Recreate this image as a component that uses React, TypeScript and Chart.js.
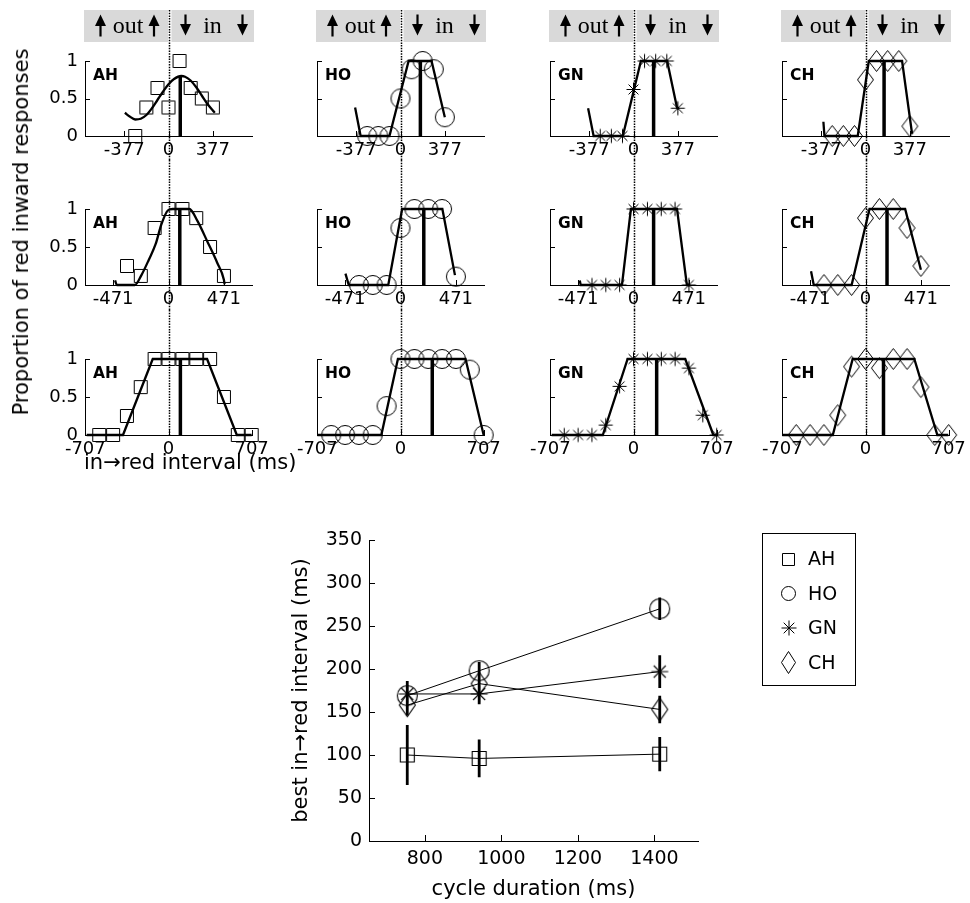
import React, { useEffect, useRef } from 'react';
import { Chart, registerables } from 'chart.js';
Chart.register(...registerables);

const SANS = '"DejaVu Sans", "Liberation Sans", Arial, sans-serif';
const SERIF = '"Liberation Serif", "Times New Roman", serif';

// ---------------- data ----------------
const subjects = ['AH', 'HO', 'GN', 'CH'];
const markerKinds = ['square', 'circle', 'star', 'diamond'];
const cycleDurations = [754, 942, 1414];

const xTicksRow1 = [-377, 0, 377];
const xTicksRow2 = [-471, 0, 471];
const xTicksRow3 = [-707, 0, 707];
const yTicksPanel = [0, 0.5, 1];
const yTicksBottom = [0, 50, 100, 150, 200, 250, 300, 350];
const xTicksBottom = [800, 1000, 1200, 1400];

// in->red intervals (ms) of the tested conditions
const intervalsRow1 = [-283, -188.5, -94, 0, 94, 188.5, 283, 377];
const intervalsRow2 = [-353, -235.5, -118, 0, 118, 235.5, 353, 471];
const intervalsRow3 = [-589, -471, -353.5, -236, -118, 0, 118, 236, 353.5, 471, 589, 707];

// proportion of red inward responses
const propAH1 = [0, 0.38, 0.64, 0.38, 1.0, 0.64, 0.5, 0.38];
const propHO1 = [0, 0, 0, 0.5, 0.89, 1, 0.89, 0.25];
const propGN1 = [0, 0, 0, 0.62, 1, 1, 1, 0.37];
const propCH1 = [0, 0, 0, 0.75, 1, 1, 1, 0.13];
const propAH2 = [0.25, 0.12, 0.75, 1, 1, 0.88, 0.5, 0.12];
const propHO2 = [0, 0, 0, 0.75, 1, 1, 1, 0.11];
const propGN2 = [0, 0, 0, 1, 1, 1, 1, 0];
const propCH2 = [0, 0, 0, 0.88, 1, 1, 0.75, 0.25];
const propAH3 = [0, 0, 0.25, 0.63, 1, 1, 1, 1, 1, 0.5, 0, 0];
const propHO3 = [0, 0, 0, 0, 0.38, 1, 1, 1, 1, 1, 0.86, 0];
const propGN3 = [0, 0, 0, 0.13, 0.64, 1, 1, 1, 1, 0.88, 0.26, 0];
const propCH3 = [0, 0, 0, 0.26, 0.9, 1, 0.88, 1, 1, 0.63, 0, 0];

// fitted curves
const fitAH1X = [-371, -330, -283, -236, -188, -141, -94, -47, 0, 47, 108, 141, 188, 236, 283, 330, 377, 394];
const fitAH1Y = [0.31, 0.26, 0.22, 0.23, 0.28, 0.37, 0.48, 0.59, 0.69, 0.76, 0.8, 0.79, 0.74, 0.65, 0.54, 0.43, 0.34, 0.31];
const fitHO1X = [-386, -339, -94, 69, 264, 377];
const fitHO1Y = [0.38, 0, 0, 1, 1, 0.25];
const fitGN1X = [-386, -339, -91, 63, 286, 371];
const fitGN1Y = [0.37, 0, 0, 1, 1, 0.37];
const fitCH1X = [-358, -349, -66, 28, 311, 396];
const fitCH1Y = [0.19, 0, 0, 1, 1, 0.03];
const fitAH2X = [-454, -440, -286, -230, -168, -109, -62, -6, 36, 177, 247, 331, 415, 471, 477];
const fitAH2Y = [0.06, 0, 0, 0.13, 0.33, 0.54, 0.79, 0.98, 1, 1, 0.84, 0.57, 0.29, 0.07, 0.01];
const fitHO2X = [-468, -440, -104, 14, 356, 463];
const fitHO2Y = [0.15, 0, 0, 1, 1, 0.13];
const fitGN2X = [-457, -449, -98, -22, 370, 454, 477];
const fitGN2Y = [0.06, 0, 0, 1, 1, 0, 0];
const fitCH2X = [-463, -440, -118, 34, 337, 471];
const fitCH2Y = [0.18, 0, 0, 1, 1, 0.2];
const fitAH3X = [-696, -387, -134, 328, 581, 707];
const fitAH3Y = [0, 0, 1, 1, 0, 0];
const fitHO3X = [-707, -163, -22, 553, 707];
const fitHO3Y = [0, 0, 1, 1, 0];
const fitGN3X = [-696, -261, -50, 440, 679, 707];
const fitGN3Y = [0, 0, 1, 1, 0, 0];
const fitCH3X = [-707, -278, -109, 415, 611, 704];
const fitCH3Y = [0, 0, 1, 1, 0, 0];

// best in->red interval (ms) per cycle duration, with error
const bestAH = [100, 96, 101];
const bestHO = [169, 198, 270];
const bestGN = [171, 171, 197];
const bestCH = [158, 183, 153];
const errAH = [35, 22, 20];
const errHO = [12, 10, 13];
const errGN = [15, 12, 19];
const errCH = [12, 12, 16];

// height of the bold "best" line in each panel
const bestTopRow1 = [0.8, 1, 1, 1];
const bestTopRow2 = [1, 1, 1, 1];
const bestTopRow3 = [1, 1, 1, 1];

const xTickRows = [xTicksRow1, xTicksRow2, xTicksRow3];
const intervalRows = [intervalsRow1, intervalsRow2, intervalsRow3];
const propRows = [
  [propAH1, propHO1, propGN1, propCH1],
  [propAH2, propHO2, propGN2, propCH2],
  [propAH3, propHO3, propGN3, propCH3],
];
const fitXRows = [
  [fitAH1X, fitHO1X, fitGN1X, fitCH1X],
  [fitAH2X, fitHO2X, fitGN2X, fitCH2X],
  [fitAH3X, fitHO3X, fitGN3X, fitCH3X],
];
const fitYRows = [
  [fitAH1Y, fitHO1Y, fitGN1Y, fitCH1Y],
  [fitAH2Y, fitHO2Y, fitGN2Y, fitCH2Y],
  [fitAH3Y, fitHO3Y, fitGN3Y, fitCH3Y],
];
const bestBySubject = [bestAH, bestHO, bestGN, bestCH];
const errBySubject = [errAH, errHO, errGN, errCH];
const bestTopRows = [bestTopRow1, bestTopRow2, bestTopRow3];

// ---------------- layout ----------------
const colAreaLeft = [85, 317, 550, 782];
const rowCanvasTop = [0, 160, 310];
const rowCanvasBottom = [160, 310, 470];
const rowAreaTop = [61, 209, 359];
const rowAreaBottom = [136, 285, 435];
const AREA_W = 167;
const PAD_L = 80;
const PAD_R = 32;
const Y_AXIS_W = 40;

const topMarkerSize: Record<string, [number, number]> = {
  square: [13, 13], circle: [19, 19], star: [14, 14], diamond: [16, 21],
};
const bottomMarkerSize: Record<string, [number, number]> = {
  square: [14, 14], circle: [20, 20], star: [17, 17], diamond: [16, 23],
};
const legendMarkerSize: Record<string, [number, number]> = {
  square: [12, 12], circle: [14, 14], star: [15, 15], diamond: [14, 22],
};

function makeMarker(kind: string, size: [number, number], lw = 1): HTMLCanvasElement {
  const [w, h] = size;
  const c = document.createElement('canvas');
  const pad = 2;
  c.width = Math.ceil(w) + 2 * pad + 1;
  c.height = Math.ceil(h) + 2 * pad + 1;
  const ctx = c.getContext('2d')!;
  const cx = c.width / 2;
  const cy = c.height / 2;
  ctx.strokeStyle = '#000';
  ctx.lineWidth = lw;
  ctx.beginPath();
  if (kind === 'square') {
    ctx.rect(cx - w / 2, cy - h / 2, w, h);
  } else if (kind === 'circle') {
    ctx.ellipse(cx, cy, w / 2, h / 2, 0, 0, Math.PI * 2);
  } else if (kind === 'diamond') {
    ctx.moveTo(cx, cy - h / 2);
    ctx.lineTo(cx + w / 2, cy);
    ctx.lineTo(cx, cy + h / 2);
    ctx.lineTo(cx - w / 2, cy);
    ctx.closePath();
  } else {
    const r = w / 2;
    for (let k = 0; k < 4; k++) {
      const ang = (k * Math.PI) / 4;
      const dx = Math.cos(ang) * r;
      const dy = Math.sin(ang) * r;
      ctx.moveTo(cx - dx, cy - dy);
      ctx.lineTo(cx + dx, cy + dy);
    }
  }
  ctx.stroke();
  return c;
}

function drawBanner(ctx: CanvasRenderingContext2D, a: any, x0: number) {
  ctx.save();
  ctx.fillStyle = '#d9d9d9';
  ctx.fillRect(a.left - 1, 10, x0 - 1.5 - (a.left - 1), 32);
  ctx.fillRect(x0 + 2, 10, a.right + 2 - (x0 + 2), 32);
  ctx.fillStyle = '#000';
  const up = (x: number) => {
    ctx.beginPath();
    ctx.moveTo(x, 14.5);
    ctx.lineTo(x + 5.5, 26);
    ctx.lineTo(x - 5.5, 26);
    ctx.closePath();
    ctx.fill();
    ctx.fillRect(x - 1.1, 24, 2.2, 12.5);
  };
  const down = (x: number) => {
    ctx.fillRect(x - 1.1, 14.5, 2.2, 11.5);
    ctx.beginPath();
    ctx.moveTo(x - 5.5, 24);
    ctx.lineTo(x + 5.5, 24);
    ctx.lineTo(x, 35.5);
    ctx.closePath();
    ctx.fill();
  };
  up(x0 - 69);
  up(x0 - 15.5);
  down(x0 + 16);
  down(x0 + 73);
  ctx.font = `24px ${SERIF}`;
  ctx.textAlign = 'center';
  ctx.textBaseline = 'alphabetic';
  ctx.fillText('out', x0 - 41.5, 32.5);
  ctx.fillText('in', x0 + 43, 32.5);
  ctx.restore();
}

function Panel({ row, col }: { row: number; col: number }) {
  const ref = useRef<HTMLCanvasElement>(null);
  const left = colAreaLeft[col] - PAD_L;
  const top = rowCanvasTop[row];
  const w = PAD_L + AREA_W + PAD_R;
  const h = rowCanvasBottom[row] - rowCanvasTop[row];

  useEffect(() => {
    const canvas = ref.current!;
    const kind = markerKinds[col];
    const marker = makeMarker(kind, topMarkerSize[kind], 1);
    const xs = intervalRows[row];
    const ys = propRows[row][col];
    const fx = fitXRows[row][col];
    const fy = fitYRows[row][col];
    const best = bestBySubject[col][row];
    const bestTop = bestTopRows[row][col];
    const xTicks = xTickRows[row];
    const smooth = col === 0 && row < 2;

    const deco = {
      id: 'panelDeco',
      beforeDatasetsDraw(ch: any) {
        const ctx = ch.ctx as CanvasRenderingContext2D;
        const a = ch.chartArea;
        const x0 = Math.round(ch.scales.x.getPixelForValue(0)) + 0.5;
        if (row === 0) drawBanner(ctx, a, x0);
        ctx.save();
        ctx.strokeStyle = '#000';
        ctx.lineWidth = 1.5;
        ctx.setLineDash([1.5, 1.2]);
        ctx.beginPath();
        ctx.moveTo(x0, row === 0 ? 10 : 0);
        ctx.lineTo(x0, row === 2 ? a.bottom : ch.height);
        ctx.stroke();
        ctx.restore();
      },
      afterDraw(ch: any) {
        const ctx = ch.ctx as CanvasRenderingContext2D;
        const a = ch.chartArea;
        ctx.save();
        ctx.strokeStyle = '#000';
        ctx.lineWidth = 1;
        ctx.beginPath();
        xTicks.forEach((v) => {
          const px = Math.round(ch.scales.x.getPixelForValue(v)) + 0.5;
          ctx.moveTo(px, a.bottom);
          ctx.lineTo(px, a.bottom - 5);
        });
        yTicksPanel.forEach((v) => {
          const py = Math.round(ch.scales.y.getPixelForValue(v)) + 0.5;
          ctx.moveTo(a.left, py);
          ctx.lineTo(a.left + 5, py);
        });
        ctx.stroke();
        ctx.fillStyle = '#000';
        ctx.font = `bold 15.5px ${SANS}`;
        ctx.textAlign = 'left';
        ctx.textBaseline = 'alphabetic';
        ctx.fillText(subjects[col], a.left + 8, a.top + 18.5);
        ctx.restore();
      },
    };

    const chart = new Chart(canvas, {
      type: 'scatter',
      data: {
        datasets: [
          {
            label: subjects[col],
            data: xs.map((x, i) => ({ x, y: ys[i] })),
            pointStyle: marker as any,
            pointRadius: 6,
            showLine: false,
            clip: false as any,
          },
          {
            label: 'fit',
            data: fx.map((x, i) => ({ x, y: fy[i] })),
            showLine: true,
            borderColor: '#000',
            borderWidth: 2.3,
            pointRadius: 0,
            tension: smooth ? 0.4 : 0,
            cubicInterpolationMode: smooth ? 'monotone' : 'default',
            clip: false as any,
          } as any,
          {
            label: 'best',
            data: [{ x: best, y: 0 }, { x: best, y: bestTop }],
            showLine: true,
            borderColor: '#000',
            borderWidth: 3.5,
            pointRadius: 0,
            clip: false as any,
          },
        ],
      },
      options: {
        responsive: false,
        animation: false,
        events: [],
        layout: { padding: { left: PAD_L - Y_AXIS_W, right: PAD_R, top: rowAreaTop[row] - top, bottom: 0 } },
        plugins: { legend: { display: false }, tooltip: { enabled: false } },
        scales: {
          x: {
            type: 'linear',
            min: -710,
            max: 710,
            afterBuildTicks: (s: any) => { s.ticks = xTicks.map((v) => ({ value: v })); },
            afterFit: (s: any) => { s.height = rowCanvasBottom[row] - rowAreaBottom[row]; },
            grid: { display: false, drawTicks: false },
            border: { display: true, color: '#000', width: 1 },
            ticks: {
              color: '#000', font: { family: SANS, size: 18 }, padding: 4,
              maxRotation: 0, autoSkip: false, callback: (v: any) => String(v),
            },
          },
          y: {
            type: 'linear',
            min: 0,
            max: 1,
            afterBuildTicks: (s: any) => { s.ticks = yTicksPanel.map((v) => ({ value: v })); },
            afterFit: (s: any) => { s.width = Y_AXIS_W; },
            grid: { display: false, drawTicks: false },
            border: { display: true, color: '#000', width: 1 },
            ticks: {
              display: col === 0, color: '#000', font: { family: SANS, size: 18 }, padding: 7,
              callback: (v: any) => String(v),
            },
          },
        },
      } as any,
      plugins: [deco],
    });
    return () => chart.destroy();
  }, [row, col]);

  return (
    <canvas
      ref={ref}
      width={w}
      height={h}
      style={{ position: 'absolute', left, top, width: w, height: h }}
    />
  );
}

const BOT = { left: 270, top: 520, w: 620, h: 383, padLeft: 10, yW: 89, padTop: 20, padRight: 192, xH: 62 };

function BottomChart() {
  const ref = useRef<HTMLCanvasElement>(null);
  useEffect(() => {
    const canvas = ref.current!;
    const markers = markerKinds.map((k) => makeMarker(k, bottomMarkerSize[k], 1.1));
    const legendMarkers = markerKinds.map((k) => makeMarker(k, legendMarkerSize[k], 1));

    const deco = {
      id: 'bottomDeco',
      afterDatasetsDraw(ch: any) {
        const ctx = ch.ctx as CanvasRenderingContext2D;
        const xs = ch.scales.x;
        const ys = ch.scales.y;
        ctx.save();
        ctx.strokeStyle = '#000';
        ctx.lineWidth = 2.8;
        ctx.beginPath();
        bestBySubject.forEach((vals, i) => {
          vals.forEach((v, j) => {
            const e = errBySubject[i][j];
            const px = xs.getPixelForValue(cycleDurations[j]);
            ctx.moveTo(px, ys.getPixelForValue(v - e));
            ctx.lineTo(px, ys.getPixelForValue(v + e));
          });
        });
        ctx.stroke();
        ctx.restore();
      },
      afterDraw(ch: any) {
        const ctx = ch.ctx as CanvasRenderingContext2D;
        const a = ch.chartArea;
        ctx.save();
        ctx.strokeStyle = '#000';
        ctx.lineWidth = 1;
        ctx.beginPath();
        xTicksBottom.forEach((v) => {
          const px = Math.round(ch.scales.x.getPixelForValue(v)) + 0.5;
          ctx.moveTo(px, a.bottom);
          ctx.lineTo(px, a.bottom - 6);
        });
        yTicksBottom.forEach((v) => {
          const py = Math.round(ch.scales.y.getPixelForValue(v)) + 0.5;
          ctx.moveTo(a.left, py);
          ctx.lineTo(a.left + 6, py);
        });
        ctx.stroke();
        // legend
        const bx = Math.round(a.right) + 64.5;
        const by = 13.5;
        ctx.strokeRect(bx, by, 93, 152);
        ctx.fillStyle = '#000';
        ctx.font = `19px ${SANS}`;
        ctx.textAlign = 'left';
        ctx.textBaseline = 'middle';
        ch.data.datasets.forEach((ds: any, i: number) => {
          const y = 39.5 + i * 34.4;
          const m = legendMarkers[i];
          ctx.drawImage(m, Math.round(bx + 26 - m.width / 2), Math.round(y - m.height / 2));
          ctx.fillText(ds.label, bx + 45.5, y + 1);
        });
        ctx.restore();
      },
    };

    const chart = new Chart(canvas, {
      type: 'scatter',
      data: {
        datasets: subjects.map((s, i) => ({
          label: s,
          data: cycleDurations.map((c, j) => ({ x: c, y: bestBySubject[i][j] })),
          showLine: true,
          borderColor: '#000',
          borderWidth: 1,
          pointStyle: markers[i] as any,
          pointRadius: 6,
          clip: false as any,
        })),
      },
      options: {
        responsive: false,
        animation: false,
        events: [],
        layout: { padding: { left: BOT.padLeft, right: BOT.padRight, top: BOT.padTop, bottom: 0 } },
        plugins: { legend: { display: false }, tooltip: { enabled: false } },
        scales: {
          x: {
            type: 'linear',
            min: 654,
            max: 1514,
            afterBuildTicks: (s: any) => { s.ticks = xTicksBottom.map((v) => ({ value: v })); },
            afterFit: (s: any) => { s.height = BOT.xH; },
            grid: { display: false, drawTicks: false },
            border: { display: true, color: '#000', width: 1 },
            ticks: {
              color: '#000', font: { family: SANS, size: 19 }, padding: 7,
              maxRotation: 0, autoSkip: false, callback: (v: any) => String(v),
            },
            title: {
              display: true, text: 'cycle duration (ms)', color: '#000',
              font: { family: SANS, size: 21 }, padding: { top: 0, bottom: 1 },
            },
          },
          y: {
            type: 'linear',
            min: 0,
            max: 350,
            afterBuildTicks: (s: any) => { s.ticks = yTicksBottom.map((v) => ({ value: v })); },
            afterFit: (s: any) => { s.width = BOT.yW; },
            grid: { display: false, drawTicks: false },
            border: { display: true, color: '#000', width: 1 },
            ticks: {
              color: '#000', font: { family: SANS, size: 19 }, padding: 7,
              callback: (v: any) => String(v),
            },
            title: {
              display: true, text: 'best in→red interval (ms)', color: '#000',
              font: { family: SANS, size: 21 }, padding: { top: 9, bottom: 0 },
            },
          },
        },
      } as any,
      plugins: [deco],
    });
    return () => chart.destroy();
  }, []);
  return (
    <canvas
      ref={ref}
      width={BOT.w}
      height={BOT.h}
      style={{ position: 'absolute', left: BOT.left, top: BOT.top, width: BOT.w, height: BOT.h }}
    />
  );
}

export default function App() {
  const panels: React.ReactNode[] = [];
  for (let r = 0; r < 3; r++) {
    for (let c = 0; c < 4; c++) {
      panels.push(<Panel key={`${r}-${c}`} row={r} col={c} />);
    }
  }
  return (
    <div style={{ position: 'absolute', left: 0, top: 0, width: 970, height: 903, background: '#fff', overflow: 'hidden' }}>
      {panels}
      <BottomChart />
      <div
        style={{
          position: 'absolute', left: 21, top: 232,
          transform: 'translate(-50%, -50%) rotate(-90deg)',
          whiteSpace: 'nowrap', fontFamily: SANS, fontSize: 21, lineHeight: '24px', color: '#000',
        }}
      >
        Proportion of red inward responses
      </div>
      <div
        style={{
          position: 'absolute', left: 84, top: 450,
          whiteSpace: 'nowrap', fontFamily: SANS, fontSize: 21, lineHeight: '24px', color: '#000',
        }}
      >
        in→red interval (ms)
      </div>
    </div>
  );
}
